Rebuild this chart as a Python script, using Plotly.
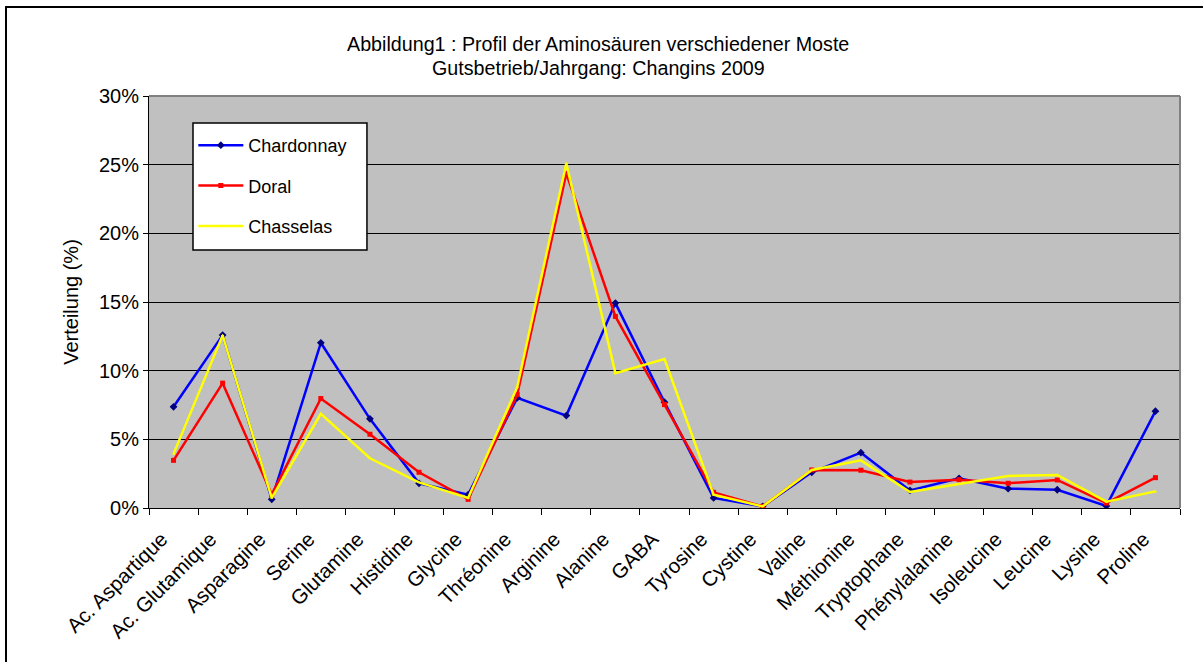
import plotly.graph_objects as go

categories = ["Ac. Aspartique", "Ac. Glutamique", "Asparagine", "Serine", "Glutamine",
              "Histidine", "Glycine", "Thréonine", "Arginine", "Alanine", "GABA",
              "Tyrosine", "Cystine", "Valine", "Méthionine", "Tryptophane",
              "Phénylalanine", "Isoleucine", "Leucine", "Lysine", "Proline"]

chardonnay = [7.37, 12.59, 0.63, 12.03, 6.49, 1.80, 0.97, 8.02, 6.73, 14.92, 7.70,
              0.73, 0.12, 2.60, 4.03, 1.28, 2.16, 1.41, 1.33, 0.15, 7.05]
doral = [3.47, 9.09, 0.99, 7.97, 5.37, 2.60, 0.63, 8.26, 24.36, 13.95, 7.53,
         1.14, 0.12, 2.77, 2.75, 1.89, 2.06, 1.80, 2.04, 0.36, 2.21]
chasselas = [3.94, 12.57, 0.73, 6.86, 3.62, 1.87, 0.73, 8.80, 25.09, 9.82, 10.84,
             0.97, 0.12, 2.77, 3.47, 1.17, 1.75, 2.33, 2.41, 0.46, 1.21]

y_ticks = [0, 5, 10, 15, 20, 25, 30]
y_tick_labels = ["0%", "5%", "10%", "15%", "20%", "25%", "30%"]

title_line1 = "Abbildung1 : Profil der Aminosäuren verschiedener Moste"
title_line2 = "Gutsbetrieb/Jahrgang: Changins 2009"

FONT = "Liberation Sans, Arial, sans-serif"

fig = go.Figure()
fig.add_trace(go.Scatter(x=categories, y=chardonnay, name="Chardonnay", mode="lines+markers",
                         line=dict(color="#0000FF", width=2.5),
                         marker=dict(symbol="diamond", size=6, color="#000080"),
                         legendgroup="a"))
fig.add_trace(go.Scatter(x=categories, y=doral, name="Doral", mode="lines+markers",
                         line=dict(color="#FF0000", width=2.5),
                         marker=dict(symbol="square", size=5, color="#FF0000"),
                         legendgroup="b"))
fig.add_trace(go.Scatter(x=categories, y=chasselas, name="Chasselas", mode="lines+markers",
                         line=dict(color="#FFFF00", width=2.5),
                         marker=dict(symbol="triangle-up", size=3, color="#FFFF00"),
                         legendgroup="c"))

fig.update_layout(
    width=1203, height=662,
    margin=dict(l=149, r=23, t=96, b=154),
    paper_bgcolor="white",
    plot_bgcolor="#C0C0C0",
    font=dict(family=FONT, color="black"),
    showlegend=True,
    legend=dict(x=0.043, y=0.9248, xanchor="left", yanchor="top",
                bgcolor="rgba(0,0,0,0)", borderwidth=0,
                font=dict(size=18, family=FONT), tracegroupgap=14,
                itemwidth=45),
    xaxis=dict(type="category", tickangle=-45, ticks="outside", tickson="boundaries",
               ticklen=6, tickcolor="black", showline=True, linecolor="black", linewidth=1,
               showgrid=False, tickfont=dict(size=20.5, family=FONT), range=[-0.5, 20.5],
               ticklabelshift=-12, ticklabelstandoff=10),
    yaxis=dict(range=[0, 30], tickvals=y_ticks, ticktext=y_tick_labels, ticks="outside", ticklen=5,
               tickcolor="black", showline=True, linecolor="black", linewidth=1,
               showgrid=True, gridcolor="#000000", gridwidth=1, zeroline=False,
               tickfont=dict(size=20, family=FONT),
               title=dict(text="Verteilung (%)", font=dict(size=20, family=FONT), standoff=14)),
)

# title lines
fig.add_annotation(text=title_line1, xref="paper", yref="paper", x=(598 - 149) / 1031,
                   y=(508 - 44) / 412, xanchor="center", yanchor="middle", showarrow=False,
                   font=dict(size=19.7, family=FONT))
fig.add_annotation(text=title_line2, xref="paper", yref="paper", x=(598 - 149) / 1031,
                   y=(508 - 68) / 412, xanchor="center", yanchor="middle", showarrow=False,
                   font=dict(size=19.7, family=FONT))

# legend box
fig.add_shape(type="rect", xref="paper", yref="paper", x0=0.04268, x1=0.2114, y0=0.6262, y1=0.9345,
              fillcolor="white", line=dict(color="black", width=1.5), layer="above")
# plot area top/right edge (gray) and outer frame
fig.add_shape(type="line", xref="paper", yref="paper", x0=0, x1=1, y0=1, y1=1,
              line=dict(color="#808080", width=2))
fig.add_shape(type="line", xref="paper", yref="paper", x0=1, x1=1, y0=0, y1=1,
              line=dict(color="#808080", width=2))
fig.add_shape(type="rect", xref="paper", yref="paper", x0=-0.1387, x1=1.2, y0=-0.6, y1=1.216,
              line=dict(color="black", width=2), layer="above")

fig.write_html("out.html", post_script="document.body.style.margin='0px';",
               config={"displayModeBar": False})
